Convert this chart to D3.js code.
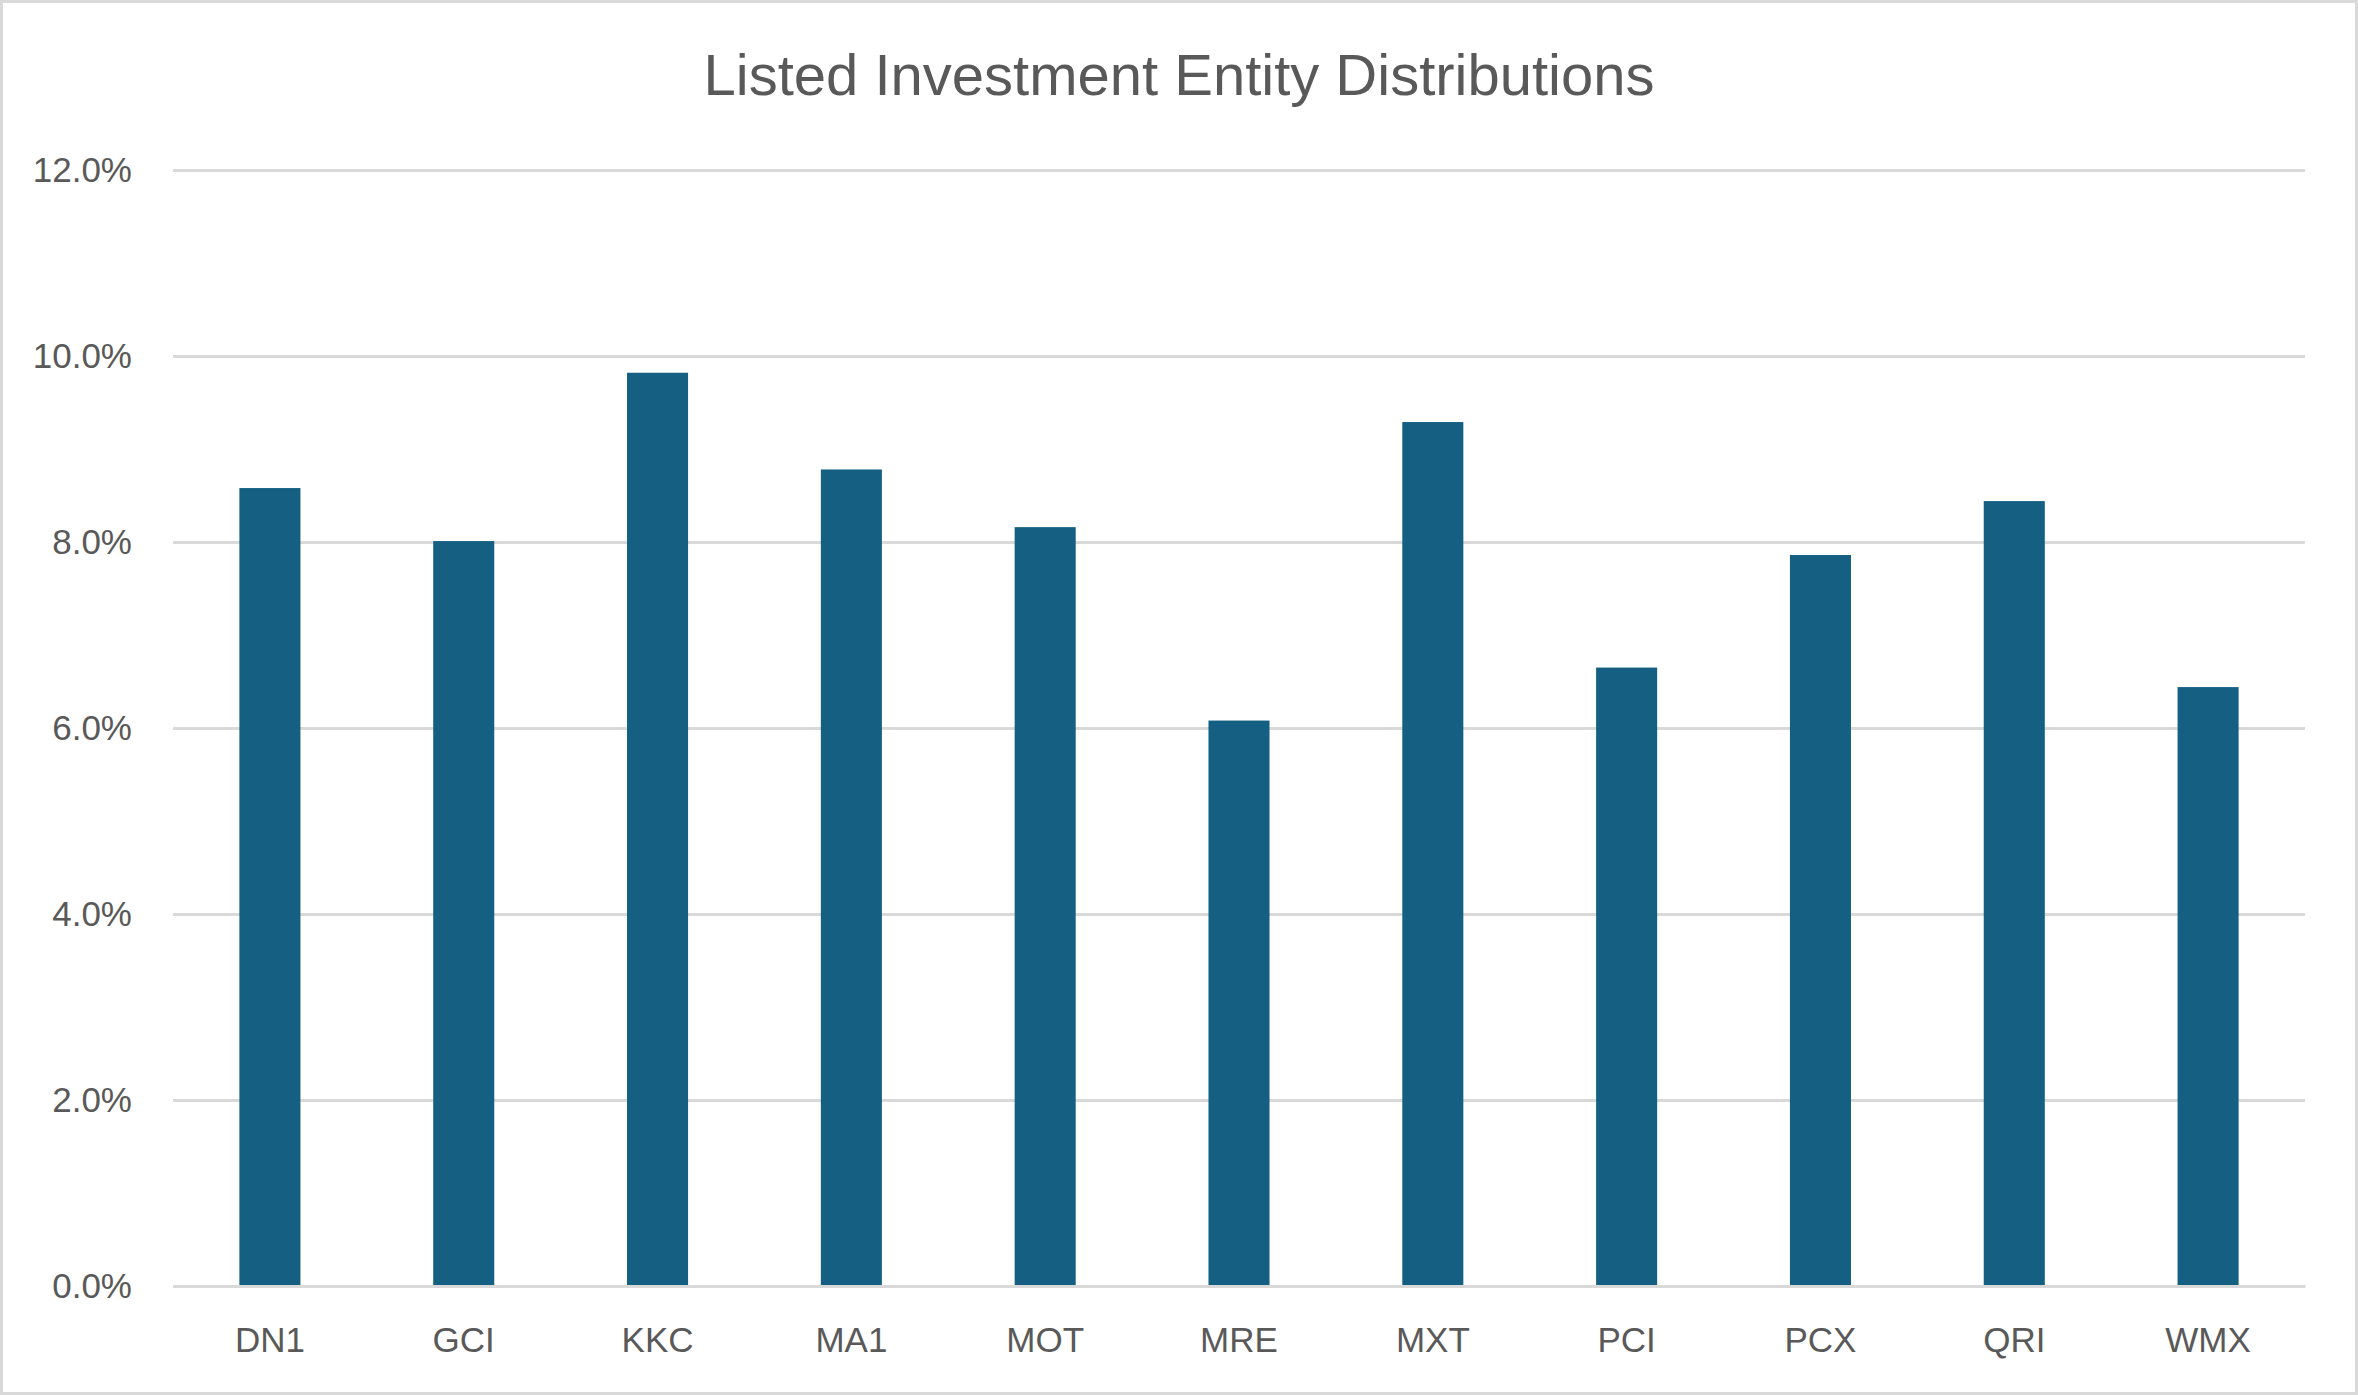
<!DOCTYPE html>
<html lang="en">
<head>
    <meta charset="UTF-8">
    <title>Listed Investment Entity Distributions</title>
    <script src="https://cdnjs.cloudflare.com/ajax/libs/d3/7.8.5/d3.min.js"></script>
    <style>
        html, body { margin: 0; padding: 0; background: #fff; }
        svg { display: block; }
    </style>
</head>
<body>
    <div id="wrapper"></div>
    <script>
        // data
        const chartTitle = 'Listed Investment Entity Distributions'
        const tickers = ['DN1', 'GCI', 'KKC', 'MA1', 'MOT', 'MRE', 'MXT', 'PCI', 'PCX', 'QRI', 'WMX']
        const distributions = [0.0858, 0.0801, 0.0982, 0.0878, 0.0816, 0.0608, 0.0929, 0.0665, 0.0786, 0.0844, 0.0644]
        const yTicks = [0, 0.02, 0.04, 0.06, 0.08, 0.10, 0.12]

        const dataset = tickers.map((t, i) => ({ ticker: t, value: distributions[i] }))
        const xAccessor = d => d.ticker
        const yAccessor = d => d.value

        // 1. dimensions
        let dimensions = {
            width: 2358,
            height: 1395,
            margin: { top: 170, right: 53, bottom: 109, left: 173 }
        }
        dimensions.boundedWidth = dimensions.width - dimensions.margin.left - dimensions.margin.right
        dimensions.boundedHeight = dimensions.height - dimensions.margin.top - dimensions.margin.bottom

        const font = '"Liberation Sans", Arial, sans-serif'
        const textColor = '#595959'
        const lineColor = '#d9d9d9'

        // 2. canvas
        const wrapper = d3.select('#wrapper')
            .append('svg')
                .attr('width', dimensions.width)
                .attr('height', dimensions.height)

        wrapper.append('rect')
            .attr('x', 1.5)
            .attr('y', 1.5)
            .attr('width', dimensions.width - 3)
            .attr('height', dimensions.height - 3)
            .attr('fill', '#fff')
            .attr('stroke', lineColor)
            .attr('stroke-width', 3)

        wrapper.append('text')
            .attr('x', dimensions.width / 2)
            .attr('y', 95)
            .attr('text-anchor', 'middle')
            .attr('fill', textColor)
            .style('font-family', font)
            .style('font-size', '58px')
            .text(chartTitle)

        const bounds = wrapper.append('g')
            .attr('transform', `translate(${dimensions.margin.left},${dimensions.margin.top})`)

        // 3. scales
        const xScale = d3.scaleBand()
            .domain(tickers)
            .range([0, dimensions.boundedWidth])
            .paddingInner(0.685)
            .paddingOuter(0.3425)

        const yScale = d3.scaleLinear()
            .domain([0, 0.12])
            .range([dimensions.boundedHeight, 0])

        // 4. gridlines + y axis
        const yAxisGenerator = d3.axisLeft(yScale)
            .tickValues(yTicks)
            .tickSize(-dimensions.boundedWidth)
            .tickPadding(41)
            .tickFormat(d3.format('.1%'))

        const yAxis = bounds.append('g').call(yAxisGenerator)
        yAxis.select('.domain').remove()
        yAxis.selectAll('line')
            .attr('stroke', lineColor)
            .attr('stroke-width', 3)
        yAxis.selectAll('text')
            .attr('fill', textColor)
            .style('font-family', font)
            .style('font-size', '35px')

        // 5. bars
        bounds.append('g')
            .selectAll('rect')
            .data(dataset)
            .enter().append('rect')
                .attr('x', d => xScale(xAccessor(d)))
                .attr('y', d => yScale(yAccessor(d)))
                .attr('width', xScale.bandwidth())
                .attr('height', d => dimensions.boundedHeight - yScale(yAccessor(d)))
                .attr('fill', '#156082')

        // 6. x axis
        const xAxisGenerator = d3.axisBottom(xScale)
            .tickSize(0)
            .tickPadding(41)

        const xAxis = bounds.append('g')
            .attr('transform', `translate(0,${dimensions.boundedHeight})`)
            .call(xAxisGenerator)
        xAxis.select('.domain')
            .attr('stroke', lineColor)
            .attr('stroke-width', 3)
        xAxis.selectAll('text')
            .attr('fill', textColor)
            .style('font-family', font)
            .style('font-size', '35px')
    </script>
</body>
</html>
